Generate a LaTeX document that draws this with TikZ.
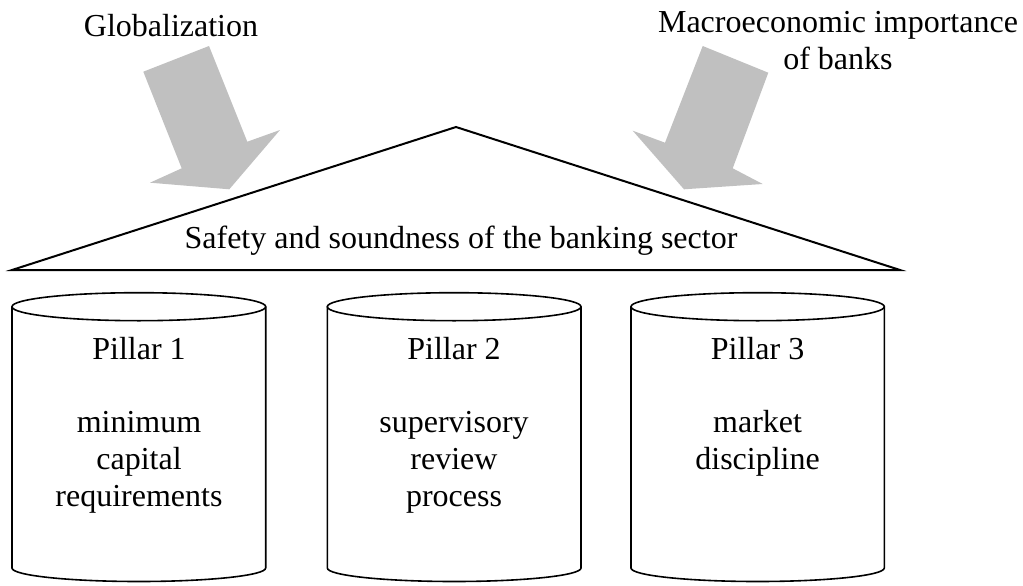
\documentclass[tikz,border=0pt]{standalone}
\usepackage{fontspec}
\setmainfont{Liberation Serif}
\definecolor{arrowgray}{HTML}{C0C0C0}
\begin{document}
\begin{tikzpicture}[x=1pt,y=-1pt,
  txt/.style={font=\fontsize{32}{36.8}\selectfont, inner sep=0pt, align=center},
  bigarrow/.style={fill=arrowgray, draw=none},
  roofline/.style={draw=black, line width=2pt, line join=miter},
  pillar/.style={draw=black, line width=1.6pt, fill=white}]
\useasboundingbox (0,0) rectangle (1023,586);
% arrows
\fill[bigarrow] (143.3,71.7) -- (209,46) -- (247.3,141.7) -- (280,130) -- (229.3,189.3) -- (150,182.7) -- (181.7,168.3) -- cycle;
\fill[bigarrow] (768.3,72.7) -- (702.7,46) -- (665,142.7) -- (632.7,130.7) -- (684,189.3) -- (762.7,184) -- (732.7,168.3) -- cycle;
% roof
\draw[roofline] (12,270) -- (456,127) -- (900,270) -- cycle;
% pillars
\foreach \l/\r in {12/265.7, 327.3/581, 631/884.3}{
  \pgfmathsetmacro{\cx}{(\l+\r)/2}
  \pgfmathsetmacro{\rx}{(\r-\l)/2}
  \draw[pillar] (\l,306.7) -- (\l,568) arc[start angle=180, end angle=0, x radius=\rx, y radius=13.5] -- (\r,306.7);
  \draw[pillar] (\cx,306.7) ellipse[x radius=\rx, y radius=14];
}
% texts
\node[txt, anchor=base] (glob) at (171,37) {Globalization};
\node[txt, anchor=base] (macro) at (838,69.8) {Macroeconomic importance\\of banks};
\node[txt, anchor=base] (safety) at (461,248.5) {Safety and soundness of the banking sector};
\node[txt, anchor=base] (p1) at (139,506.2) {Pillar 1\\[36.8pt]minimum\\capital\\requirements};
\node[txt, anchor=base] (p2) at (454,506.2) {Pillar 2\\[36.8pt]supervisory\\review\\process};
\node[txt, anchor=base] (p3) at (757.6,469.4) {Pillar 3\\[36.8pt]market\\discipline};
\end{tikzpicture}
\end{document}
